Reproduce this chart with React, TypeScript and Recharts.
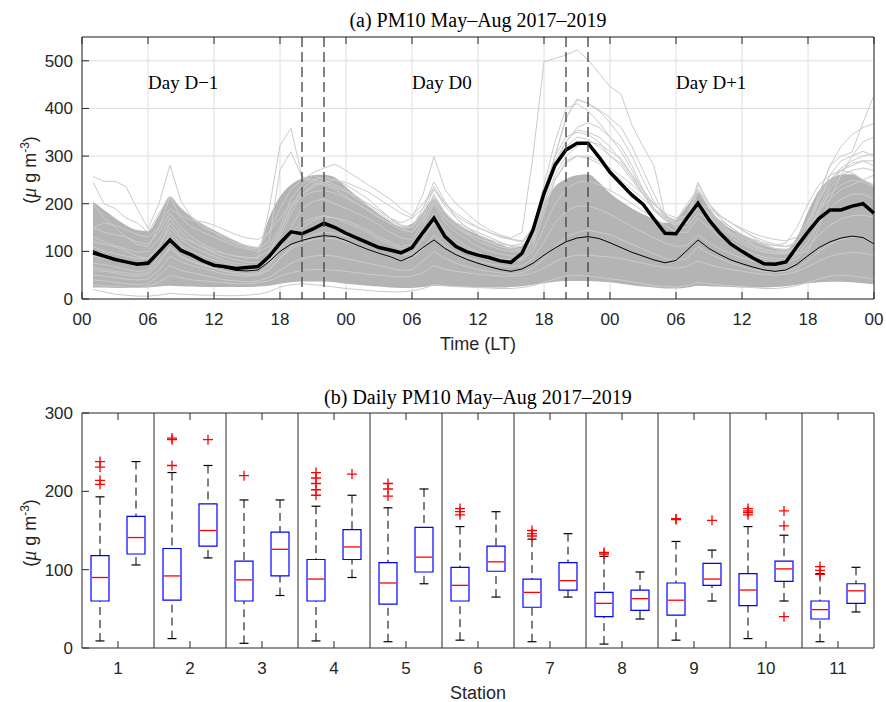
import {
  Area,
  Bar,
  CartesianGrid,
  ComposedChart,
  Line,
  ReferenceLine,
  Scatter,
  XAxis,
  YAxis,
} from "recharts";

// ---------- panel (a): hourly PM10 around dust days ----------
const hours = Array.from({ length: 72 }, (_, i) => i + 1);
const hourTicks = [0, 6, 12, 18, 24, 30, 36, 42, 48, 54, 60, 66, 72];
const hourTickLabels = ["00", "06", "12", "18", "00", "06", "12", "18", "00", "06", "12", "18", "00"];
const pmTicks = [0, 100, 200, 300, 400, 500];
const transitionHours = [20, 22, 44, 46];
const dayLabels = [
  { hour: 6, level: 440, text: "Day D\u22121" },
  { hour: 30, level: 440, text: "Day D0" },
  { hour: 54, level: 440, text: "Day D+1" },
];

const meanLine = [
  97, 90, 83, 78, 73, 75, 99, 124, 102, 92, 80, 71, 68, 64, 66, 68, 89, 117, 141, 137, 147, 159, 150, 138,
  128, 118, 108, 103, 97, 108, 140, 170, 131, 110, 99, 92, 87, 80, 77, 96, 145, 222, 281, 313, 327, 327, 298, 266,
  242, 218, 199, 168, 138, 137, 170, 201, 166, 138, 115, 100, 86, 74, 73, 78, 110, 141, 169, 187, 187, 195, 200, 180,
];
const climLine = [
  102, 92, 85, 78, 75, 78, 99, 122, 100, 90, 79, 70, 65, 60, 59, 61, 78, 100, 115, 123, 129, 133, 131, 123,
  113, 104, 96, 89, 80, 90, 108, 124, 106, 93, 83, 75, 68, 62, 58, 63, 75, 92, 107, 120, 128, 131, 127, 118,
  108, 98, 90, 82, 76, 81, 102, 124, 106, 93, 82, 74, 67, 61, 58, 61, 73, 91, 108, 120, 128, 132, 129, 116,
];
const bandLow = [
  24, 24, 23, 23, 23, 24, 26, 28, 27, 26, 25, 25, 25, 25, 25, 26, 28, 32, 35, 37, 37, 37, 35, 32,
  30, 28, 26, 24, 23, 23, 25, 28, 27, 26, 25, 24, 24, 24, 25, 27, 30, 33, 36, 38, 38, 38, 37, 35,
  32, 29, 26, 24, 22, 22, 24, 28, 27, 26, 25, 24, 24, 24, 25, 27, 30, 33, 35, 36, 36, 35, 33, 31,
];
const bandHigh = [
  204, 187, 170, 155, 145, 143, 176, 215, 190, 172, 157, 145, 133, 122, 112, 108, 170, 215, 240, 253, 260, 261, 255, 235,
  215, 196, 178, 163, 152, 158, 183, 211, 183, 160, 146, 135, 125, 115, 108, 112, 150, 200, 236, 252, 260, 262, 245, 222,
  205, 190, 178, 168, 160, 167, 195, 223, 190, 165, 147, 135, 125, 114, 107, 104, 130, 183, 228, 252, 261, 262, 251, 237,
];

const eventLines = [
  [
    257, 247, 247, 236, 190, 148, 200, 281, 205, 170, 150, 140, 130, 118, 112, 108, 140, 190, 230, 250, 265, 275, 283, 270,
    255, 240, 225, 210, 190, 175, 200, 230, 195, 170, 150, 135, 120, 110, 105, 100, 150, 230, 300, 380, 420, 410, 395, 370,
    340, 300, 250, 205, 170, 160, 170, 230, 200, 175, 160, 145, 130, 115, 105, 100, 95, 100, 150, 210, 260, 300, 330, 340,
  ],
  [
    245, 200, 190, 170, 160, 140, 180, 215, 190, 170, 155, 140, 125, 115, 108, 105, 120, 271, 309, 255, 245, 240, 230, 215,
    200, 185, 170, 160, 150, 150, 190, 246, 205, 170, 150, 135, 125, 118, 112, 110, 140, 210, 300, 340, 350, 345, 330, 300,
    280, 250, 220, 200, 180, 170, 175, 245, 200, 170, 150, 130, 115, 105, 100, 100, 110, 150, 220, 280, 320, 345, 360, 368,
  ],
  [
    150, 140, 135, 130, 120, 115, 140, 180, 150, 130, 115, 105, 95, 90, 88, 85, 187, 323, 358, 257, 250, 245, 235, 225,
    210, 200, 185, 170, 160, 170, 220, 299, 230, 200, 180, 160, 145, 135, 128, 140, 300, 498, 505, 512, 523, 502, 474, 446,
    430, 365, 320, 280, 175, 165, 200, 230, 190, 160, 140, 128, 120, 115, 112, 118, 150, 200, 240, 260, 270, 265, 250, 240,
  ],
  [
    120, 115, 110, 100, 90, 85, 110, 160, 130, 120, 110, 100, 95, 90, 85, 88, 100, 140, 190, 230, 250, 255, 250, 240,
    225, 210, 190, 170, 150, 140, 170, 220, 180, 160, 150, 140, 130, 120, 110, 105, 130, 210, 300, 380, 418, 411, 397, 380,
    360, 320, 270, 220, 175, 160, 165, 240, 200, 175, 160, 145, 132, 122, 115, 110, 120, 160, 220, 280, 300, 308, 370, 428,
  ],
  [
    90, 85, 80, 75, 70, 72, 100, 130, 110, 95, 85, 75, 68, 62, 60, 62, 80, 110, 140, 160, 170, 175, 170, 160,
    150, 140, 125, 115, 105, 110, 140, 180, 145, 125, 110, 98, 90, 85, 82, 84, 110, 180, 250, 290, 300, 295, 285, 270,
    250, 230, 210, 190, 170, 150, 150, 180, 165, 140, 120, 105, 95, 88, 85, 85, 100, 140, 190, 220, 240, 250, 245, 235,
  ],
  [
    40, 38, 35, 32, 30, 32, 50, 70, 60, 55, 50, 45, 40, 38, 36, 38, 45, 60, 75, 85, 90, 92, 90, 85,
    80, 75, 70, 65, 60, 62, 80, 100, 85, 75, 68, 62, 58, 55, 52, 55, 65, 85, 110, 130, 140, 145, 140, 135,
    125, 115, 105, 95, 85, 80, 85, 110, 95, 85, 75, 68, 62, 58, 56, 58, 65, 80, 100, 115, 125, 130, 128, 120,
  ],
  [
    20, 15, 10, 8, 6, 6, 8, 12, 10, 9, 8, 8, 7, 7, 8, 10, 15, 25, 30, 32, 30, 28, 25, 22,
    20, 18, 16, 15, 15, 17, 22, 30, 28, 26, 25, 24, 23, 22, 22, 24, 28, 35, 42, 48, 50, 48, 45, 42,
    40, 36, 32, 28, 26, 25, 28, 35, 32, 30, 28, 26, 24, 22, 22, 24, 28, 35, 42, 48, 50, 48, 45, 42,
  ],
  [
    200, 170, 150, 130, 115, 110, 150, 215, 170, 150, 140, 130, 120, 110, 105, 100, 110, 150, 210, 240, 260, 250, 240, 230,
    210, 195, 180, 165, 155, 150, 180, 230, 200, 175, 160, 150, 140, 130, 125, 120, 150, 220, 290, 330, 360, 370, 360, 340,
    320, 280, 230, 190, 165, 160, 170, 205, 180, 165, 150, 135, 125, 118, 112, 110, 115, 150, 210, 260, 290, 300, 310, 300,
  ],
  [
    60, 58, 55, 50, 48, 50, 75, 110, 90, 80, 72, 65, 58, 55, 52, 55, 70, 100, 130, 150, 165, 172, 170, 165,
    155, 145, 130, 120, 110, 115, 150, 200, 160, 140, 125, 110, 100, 95, 90, 92, 120, 200, 280, 330, 355, 350, 340, 320,
    290, 260, 230, 200, 175, 155, 160, 200, 175, 150, 130, 115, 105, 98, 95, 95, 105, 140, 185, 210, 230, 240, 250, 260,
  ],
  [
    110, 100, 95, 90, 85, 85, 110, 150, 125, 110, 100, 90, 80, 75, 72, 70, 85, 130, 180, 220, 240, 245, 235, 225,
    215, 200, 185, 170, 155, 150, 175, 215, 180, 155, 140, 128, 118, 110, 105, 102, 130, 200, 260, 300, 320, 330, 325, 310,
    295, 260, 220, 185, 165, 155, 165, 190, 170, 150, 135, 120, 110, 100, 95, 95, 105, 140, 190, 240, 270, 285, 290, 280,
  ],
  [
    30, 28, 26, 25, 24, 26, 35, 50, 45, 40, 38, 36, 34, 32, 32, 34, 38, 48, 55, 60, 62, 62, 60, 58,
    55, 52, 50, 48, 46, 48, 55, 70, 62, 58, 55, 52, 50, 48, 48, 50, 55, 65, 78, 88, 92, 92, 90, 88,
    85, 80, 75, 70, 66, 65, 68, 80, 72, 66, 62, 58, 55, 52, 50, 52, 58, 68, 80, 90, 95, 98, 96, 92,
  ],
  [
    75, 72, 68, 62, 58, 60, 90, 140, 115, 100, 90, 82, 75, 70, 68, 66, 75, 105, 150, 190, 205, 210, 200, 190,
    180, 170, 155, 140, 128, 125, 160, 210, 170, 150, 138, 128, 120, 115, 112, 115, 150, 240, 330, 400, 410, 395, 370, 340,
    310, 270, 225, 185, 168, 158, 165, 225, 195, 170, 150, 135, 122, 112, 106, 104, 110, 135, 180, 230, 260, 270, 275, 270,
  ],
  [
    150, 160, 155, 145, 135, 130, 150, 190, 175, 165, 162, 155, 145, 135, 128, 125, 140, 170, 200, 220, 235, 245, 250, 245,
    235, 225, 210, 195, 180, 170, 190, 236, 200, 180, 165, 150, 140, 132, 126, 122, 145, 220, 280, 320, 340, 335, 320, 300,
    285, 255, 220, 190, 172, 165, 175, 200, 190, 175, 160, 148, 138, 130, 125, 122, 130, 165, 210, 250, 270, 280, 290, 290,
  ],
  [
    50, 48, 45, 42, 40, 42, 60, 90, 78, 70, 64, 58, 52, 50, 48, 50, 60, 85, 110, 125, 135, 140, 138, 132,
    125, 118, 108, 100, 92, 95, 125, 160, 135, 118, 105, 95, 88, 84, 80, 82, 100, 150, 200, 230, 245, 248, 240, 228,
    215, 200, 185, 170, 155, 140, 140, 170, 150, 130, 115, 100, 90, 84, 80, 82, 92, 120, 160, 190, 210, 220, 220, 210,
  ],
  [
    65, 62, 58, 55, 52, 55, 80, 105, 88, 78, 70, 64, 58, 54, 52, 53, 62, 85, 105, 118, 125, 128, 126, 120,
    112, 105, 96, 88, 82, 85, 105, 135, 112, 98, 88, 80, 74, 70, 68, 70, 85, 120, 160, 185, 195, 195, 188, 178,
    165, 152, 140, 128, 118, 110, 112, 135, 118, 105, 95, 86, 80, 76, 74, 75, 85, 108, 135, 155, 168, 175, 176, 172,
  ],
  [
    130, 120, 112, 105, 98, 100, 125, 170, 140, 122, 108, 96, 88, 82, 78, 76, 92, 140, 195, 215, 225, 228, 222, 212,
    200, 188, 172, 158, 145, 140, 165, 205, 172, 150, 135, 122, 112, 104, 100, 98, 125, 190, 250, 285, 300, 300, 290, 275,
    258, 240, 220, 198, 178, 160, 158, 205, 178, 155, 138, 124, 112, 104, 98, 97, 110, 150, 205, 250, 275, 290, 300, 305,
  ],
];

// ---------- panel (b): daily PM10 per station ----------
const stations = ["1", "2", "3", "4", "5", "6", "7", "8", "9", "10", "11"];
const stationTicks = [1, 2, 3, 4, 5, 6, 7, 8, 9, 10, 11];
const stationDividers = [1.5, 2.5, 3.5, 4.5, 5.5, 6.5, 7.5, 8.5, 9.5, 10.5];
const dailyTicks = [0, 100, 200, 300];
const boxOffset = 0.25; // box centre vs station centre, in station units

const lowWhiskerA = [9, 12, 6, 9, 8, 10, 8, 5, 10, 12, 8];
const q1A = [60, 61, 60, 60, 56, 60, 52, 40, 42, 54, 37];
const medianA = [90, 92, 87, 88, 83, 80, 71, 57, 61, 74, 49];
const q3A = [118, 127, 111, 113, 109, 103, 88, 71, 83, 95, 60];
const highWhiskerA = [193, 224, 189, 181, 179, 155, 139, 117, 136, 155, 95];
const outliersA = [
  [238, 231, 214, 209],
  [268, 266, 233],
  [220],
  [224, 217, 210, 202, 195],
  [210, 203, 194],
  [178, 174, 170],
  [150, 146, 143],
  [122, 120],
  [165, 164],
  [178, 175, 173, 170],
  [104, 99, 94],
];

const lowWhiskerB = [106, 115, 67, 90, 82, 65, 65, 37, 60, 60, 46];
const q1B = [120, 130, 92, 113, 97, 98, 74, 48, 80, 85, 57];
const medianB = [141, 150, 126, 129, 116, 110, 86, 63, 88, 101, 73];
const q3B = [168, 184, 148, 151, 154, 130, 109, 74, 108, 111, 82];
const highWhiskerB = [238, 233, 189, 195, 203, 174, 146, 97, 125, 144, 103];
const outliersB = [[], [266], [], [222], [], [], [], [], [163], [175, 156, 40], []];

// ---------- styling ----------
const SANS = "'Liberation Sans', Arial, sans-serif";
const SERIF = "'Liberation Serif', 'Times New Roman', serif";
const AXIS = "#262626";
const BOX_BLUE = "#0000ff";
const tickStyle = { fill: AXIS, fontSize: 17, fontFamily: SANS };

const hourlyRows = hours.map((h, i) => {
  const row: Record<string, any> = {
    hour: h,
    mean: meanLine[i],
    clim: climLine[i],
    band: [bandLow[i], bandHigh[i]],
  };
  eventLines.forEach((ev, k) => {
    row[`e${k}`] = ev[i];
  });
  return row;
});

const stationRows = stations.map((s, i) => ({
  station: s,
  aBase: lowWhiskerA[i],
  aLowW: q1A[i] - lowWhiskerA[i],
  aLowBox: medianA[i] - q1A[i],
  aHighBox: q3A[i] - medianA[i],
  aHighW: highWhiskerA[i] - q3A[i],
  bBase: lowWhiskerB[i],
  bLowW: q1B[i] - lowWhiskerB[i],
  bLowBox: medianB[i] - q1B[i],
  bHighBox: q3B[i] - medianB[i],
  bHighW: highWhiskerB[i] - q3B[i],
}));

const outlierPoints = [
  ...outliersA.flatMap((vals, i) => vals.map((v) => ({ x: i + 1 - boxOffset, y: v }))),
  ...outliersB.flatMap((vals, i) => vals.map((v) => ({ x: i + 1 + boxOffset, y: v }))),
];

// ---------- box plot pieces ----------
const Empty = () => <g />;

// whisker from the cap (start of dash pattern) to the box edge
const WhiskerBelow = (p: any) => {
  const cx = p.x + p.width / 2;
  const bottom = p.y + p.height;
  return (
    <g>
      <line x1={cx} x2={cx} y1={bottom} y2={p.y} stroke="#000" strokeWidth={1} strokeDasharray="8 5" />
      <line x1={cx - p.width / 4} x2={cx + p.width / 4} y1={bottom} y2={bottom} stroke="#000" strokeWidth={1.2} />
    </g>
  );
};

const WhiskerAbove = (p: any) => {
  const cx = p.x + p.width / 2;
  const bottom = p.y + p.height;
  return (
    <g>
      <line x1={cx} x2={cx} y1={p.y} y2={bottom} stroke="#000" strokeWidth={1} strokeDasharray="8 5" />
      <line x1={cx - p.width / 4} x2={cx + p.width / 4} y1={p.y} y2={p.y} stroke="#000" strokeWidth={1.2} />
    </g>
  );
};

// lower half of the box: sides and bottom edge (median drawn by the upper half)
const BoxLower = (p: any) => {
  const b = p.y + p.height;
  return (
    <path
      d={`M${p.x},${p.y}V${b}H${p.x + p.width}V${p.y}`}
      fill="none"
      stroke={BOX_BLUE}
      strokeWidth={1.2}
    />
  );
};

const BoxUpper = (p: any) => {
  const b = p.y + p.height;
  return (
    <g>
      <path
        d={`M${p.x},${b}V${p.y}H${p.x + p.width}V${b}`}
        fill="none"
        stroke={BOX_BLUE}
        strokeWidth={1.2}
      />
      <line x1={p.x + 0.6} x2={p.x + p.width - 0.6} y1={b} y2={b} stroke="#ff0000" strokeWidth={1.3} />
    </g>
  );
};

const Plus = (p: any) => (
  <path
    d={`M${p.cx - 5},${p.cy}H${p.cx + 5}M${p.cx},${p.cy - 5}V${p.cy + 5}`}
    stroke="#ff0000"
    strokeWidth={1.3}
    fill="none"
  />
);

const DayText = (p: any) => (
  <text x={p.cx} y={p.cy} fontFamily={SERIF} fontSize={19} fill="#000">
    {p.payload.text}
  </text>
);

function UnitLabel({ cx, cy }: { cx: number; cy: number }) {
  return (
    <text
      transform="rotate(-90)"
      x={-cy}
      y={cx}
      textAnchor="middle"
      fontFamily={SANS}
      fontSize={18}
      fill={AXIS}
    >
      (<tspan fontFamily={SERIF} fontStyle="italic" fontSize={20}>μ</tspan> g m
      <tspan dy={-7} fontSize={12}>-3</tspan>
      <tspan dy={7}>)</tspan>
    </text>
  );
}

export default function App() {
  return (
    <div style={{ position: "absolute", left: 0, top: 0, width: 886, height: 702, background: "#fff" }}>
      <div style={{ position: "absolute", left: 0, top: 0 }}>
        <ComposedChart
          width={886}
          height={360}
          data={hourlyRows}
          margin={{ top: 36, right: 0, bottom: 31, left: 0 }}
        >
          <CartesianGrid stroke="#dedede" />
          <XAxis
            dataKey="hour"
            type="number"
            domain={[0, 72]}
            ticks={hourTicks}
            interval={0}
            tickFormatter={(v) => hourTickLabels[hourTicks.indexOf(v)]}
            tick={tickStyle}
            tickSize={-7}
            tickMargin={21}
            stroke={AXIS}
            height={30}
          />
          <XAxis
            xAxisId="top"
            orientation="top"
            dataKey="hour"
            type="number"
            domain={[0, 72]}
            ticks={hourTicks}
            interval={0}
            tickFormatter={() => ""}
            tickSize={-7}
            stroke={AXIS}
            height={1}
          />
          <YAxis
            type="number"
            domain={[0, 550]}
            ticks={pmTicks}
            interval={0}
            tick={tickStyle}
            tickSize={-7}
            tickMargin={16}
            stroke={AXIS}
            width={82}
          />
          <YAxis
            yAxisId="right"
            orientation="right"
            type="number"
            domain={[0, 550]}
            ticks={pmTicks}
            interval={0}
            tickFormatter={() => ""}
            tickSize={-7}
            stroke={AXIS}
            width={12}
          />
          <Area
            dataKey="band"
            type="monotone"
            fill="#b4b4b4"
            fillOpacity={1}
            stroke="none"
            isAnimationActive={false}
          />
          {eventLines.map((_, k) => (
            <Line
              key={k}
              dataKey={`e${k}`}
              type="linear"
              stroke="#cbcbcb"
              strokeWidth={1}
              dot={false}
              isAnimationActive={false}
            />
          ))}
          <Line dataKey="clim" type="linear" stroke="#000" strokeWidth={1} dot={false} isAnimationActive={false} />
          <Line dataKey="mean" type="linear" stroke="#000" strokeWidth={3.5} dot={false} isAnimationActive={false} />
          <Scatter data={dayLabels} dataKey="level" shape={DayText} isAnimationActive={false} />
          {transitionHours.map((h) => (
            <ReferenceLine
              key={h}
              x={h}
              xAxisId="top"
              stroke="#404040"
              strokeWidth={1.3}
              strokeDasharray="10 5"
            />
          ))}
        </ComposedChart>
      </div>

      <div style={{ position: "absolute", left: 0, top: 370 }}>
        <ComposedChart
          width={886}
          height={332}
          data={stationRows}
          barGap={18}
          margin={{ top: 42, right: 0, bottom: 24, left: 0 }}
        >
          <XAxis
            dataKey="station"
            interval={0}
            tick={tickStyle}
            tickSize={-7}
            tickMargin={21}
            stroke={AXIS}
            height={30}
          />
          <XAxis
            xAxisId="top"
            orientation="top"
            type="number"
            dataKey="x"
            domain={[0.5, 11.5]}
            ticks={stationTicks}
            interval={0}
            tickFormatter={() => ""}
            tickSize={-7}
            stroke={AXIS}
            height={1}
          />
          <YAxis
            type="number"
            domain={[0, 300]}
            ticks={dailyTicks}
            interval={0}
            tick={tickStyle}
            tickSize={-7}
            tickMargin={16}
            stroke={AXIS}
            width={82}
          />
          <YAxis
            yAxisId="right"
            orientation="right"
            type="number"
            domain={[0, 300]}
            ticks={dailyTicks}
            interval={0}
            tickFormatter={() => ""}
            tickSize={-7}
            stroke={AXIS}
            width={12}
          />
          {stationDividers.map((v) => (
            <ReferenceLine key={v} x={v} xAxisId="top" stroke="#4d4d4d" strokeWidth={1.2} />
          ))}
          <Bar dataKey="aBase" stackId="a" barSize={18} shape={Empty} isAnimationActive={false} />
          <Bar dataKey="aLowW" stackId="a" barSize={18} shape={WhiskerBelow} isAnimationActive={false} />
          <Bar dataKey="aLowBox" stackId="a" barSize={18} shape={BoxLower} isAnimationActive={false} />
          <Bar dataKey="aHighBox" stackId="a" barSize={18} shape={BoxUpper} isAnimationActive={false} />
          <Bar dataKey="aHighW" stackId="a" barSize={18} shape={WhiskerAbove} isAnimationActive={false} />
          <Bar dataKey="bBase" stackId="b" barSize={18} shape={Empty} isAnimationActive={false} />
          <Bar dataKey="bLowW" stackId="b" barSize={18} shape={WhiskerBelow} isAnimationActive={false} />
          <Bar dataKey="bLowBox" stackId="b" barSize={18} shape={BoxLower} isAnimationActive={false} />
          <Bar dataKey="bHighBox" stackId="b" barSize={18} shape={BoxUpper} isAnimationActive={false} />
          <Bar dataKey="bHighW" stackId="b" barSize={18} shape={WhiskerAbove} isAnimationActive={false} />
          <Scatter data={outlierPoints} xAxisId="top" dataKey="y" shape={Plus} isAnimationActive={false} />
        </ComposedChart>
      </div>

      <svg
        width={886}
        height={702}
        style={{ position: "absolute", left: 0, top: 0, pointerEvents: "none" }}
      >
        <text x={478} y={27} textAnchor="middle" fontFamily={SERIF} fontSize={20} fill="#000">
          (a) PM10 May–Aug 2017–2019
        </text>
        <text x={478} y={350} textAnchor="middle" fontFamily={SANS} fontSize={18} fill={AXIS}>
          Time (LT)
        </text>
        <UnitLabel cx={36} cy={170} />
        <text x={478} y={404} textAnchor="middle" fontFamily={SERIF} fontSize={20} fill="#000">
          (b) Daily PM10 May–Aug 2017–2019
        </text>
        <text x={478} y={699} textAnchor="middle" fontFamily={SANS} fontSize={18} fill={AXIS}>
          Station
        </text>
        <UnitLabel cx={36} cy={533} />
      </svg>
    </div>
  );
}
